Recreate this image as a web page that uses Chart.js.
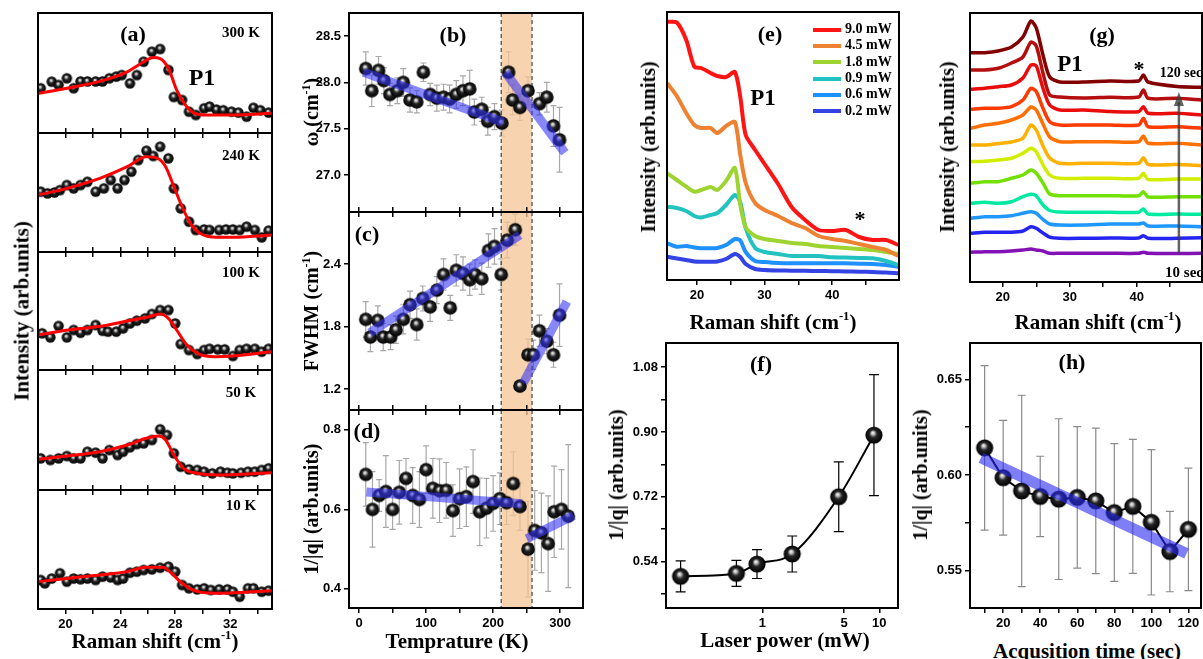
<!DOCTYPE html>
<html>
<head>
<meta charset="utf-8">
<script src="https://cdn.jsdelivr.net/npm/chart.js@4.4.0/dist/chart.umd.min.js"></script>
<style>
  body { margin: 0; width: 1203px; height: 659px; background: #fff; position: relative; overflow: hidden; }
  canvas { position: absolute; }
  .t { position: absolute; font-family: 'Liberation Serif', 'Times New Roman', serif; font-weight: bold; white-space: nowrap; color: #000; transform: translate(-50%, -50%); line-height: 1; }
  .t sup { font-size: 0.6em; vertical-align: 0.7em; line-height: 0; }
  .leg { position: absolute; font-family: 'Liberation Serif', serif; font-weight: bold; font-size: 14px; white-space: nowrap; }
  .leg span { display: inline-block; width: 28px; height: 4px; margin-right: 4px; vertical-align: middle; }
</style>
</head>
<body>
<script>
// ---------- data: (a) Raman spectra vs temperature ----------
const a300x = [18.2,19.0,19.5,20.1,20.6,21.1,21.6,22.2,22.7,23.2,23.7,24.1,24.7,25.2,25.7,26.3,26.9,27.5,27.9,28.5,29.0,29.5,30.1,30.5,31.0,31.5,32.1,32.6,33.2,33.7,34.2,34.8];
const a300y = [0.373,0.428,0.40,0.456,0.373,0.43,0.43,0.43,0.43,0.456,0.47,0.483,0.414,0.483,0.594,0.678,0.70,0.525,0.30,0.275,0.178,0.15,0.206,0.22,0.195,0.19,0.178,0.17,0.136,0.21,0.19,0.17];
const a300fx = [18.0,20.1,22.5,24.5,25.7,26.4,26.9,27.5,28.1,28.7,29.3,30.3,32.2,35.0];
const a300fy = [0.33,0.373,0.43,0.51,0.594,0.63,0.62,0.54,0.36,0.24,0.17,0.15,0.15,0.165];

const a240x = [18.2,18.7,19.2,19.6,20.1,20.6,21.1,21.6,22.2,22.8,23.3,23.8,24.3,24.8,25.3,25.9,26.4,26.9,27.5,27.9,28.4,29.0,29.5,30.1,30.5,31.2,31.7,32.2,32.7,33.2,33.8,34.3,34.8];
const a240y = [0.507,0.493,0.50,0.52,0.563,0.535,0.563,0.59,0.507,0.535,0.605,0.535,0.605,0.675,0.773,0.851,0.807,0.885,0.787,0.535,0.367,0.255,0.185,0.19,0.185,0.185,0.19,0.19,0.185,0.213,0.185,0.123,0.18];
const a240fx = [18.0,20.1,22.5,24.5,25.9,26.7,27.3,27.9,28.5,29.1,29.8,31.0,32.2,35.0];
const a240fy = [0.479,0.535,0.619,0.717,0.80,0.787,0.717,0.549,0.381,0.241,0.157,0.123,0.123,0.143];

const a100x = [18.3,18.9,19.5,20.1,20.6,21.1,21.6,22.2,22.7,23.1,23.7,24.2,24.7,25.2,25.8,26.3,26.9,27.5,28.0,28.4,29.0,29.6,30.1,30.5,31.1,31.6,32.2,32.7,33.2,33.8,34.3,34.8];
const a100y = [0.311,0.277,0.373,0.277,0.339,0.316,0.339,0.381,0.333,0.325,0.325,0.353,0.395,0.418,0.438,0.475,0.508,0.508,0.395,0.22,0.169,0.136,0.169,0.18,0.175,0.175,0.119,0.169,0.18,0.18,0.155,0.18];
const a100fx = [18.0,20.2,22.7,24.6,26.1,26.9,27.5,28.1,28.85,29.7,30.9,32.2,35.0];
const a100fy = [0.297,0.339,0.373,0.418,0.452,0.475,0.438,0.339,0.212,0.136,0.113,0.119,0.155];

const a50x = [18.2,18.9,19.5,20.1,20.6,21.1,21.6,22.2,22.7,23.2,23.8,24.2,24.7,25.2,25.7,26.3,26.9,27.4,27.9,28.4,29.0,29.6,30.1,30.7,31.3,31.8,32.2,32.8,33.3,33.8,34.3,34.8];
const a50y = [0.264,0.25,0.264,0.283,0.264,0.264,0.319,0.311,0.264,0.333,0.292,0.319,0.356,0.383,0.389,0.417,0.506,0.458,0.306,0.194,0.172,0.167,0.153,0.139,0.153,0.144,0.139,0.144,0.153,0.153,0.167,0.181];
const a50fx = [18.0,20.1,22.5,24.5,25.9,26.8,27.3,27.9,28.6,29.6,31.1,35.0];
const a50fy = [0.256,0.283,0.319,0.375,0.431,0.45,0.417,0.292,0.181,0.139,0.125,0.144];

const a10x = [18.2,18.5,19.0,19.6,20.1,20.6,21.1,21.6,22.2,22.7,23.3,23.8,24.2,24.7,25.2,25.7,26.3,26.9,27.5,28.0,28.5,29.0,29.6,30.1,30.6,31.2,31.8,32.2,32.7,33.3,33.7,34.3,34.8];
const a10y = [0.244,0.216,0.256,0.30,0.23,0.256,0.25,0.256,0.244,0.272,0.266,0.244,0.256,0.305,0.314,0.328,0.333,0.347,0.356,0.314,0.202,0.174,0.165,0.174,0.16,0.165,0.165,0.145,0.103,0.174,0.174,0.145,0.154];
const a10fx = [18.0,20.1,22.5,24.5,25.9,27.1,27.6,28.5,29.4,30.9,35.0];
const a10fy = [0.229,0.257,0.286,0.314,0.35,0.35,0.314,0.216,0.154,0.132,0.154];

const aTemps = ['300 K', '240 K', '100 K', '50 K', '10 K'];
const aTicks = [20,22,24,26,28,30,32,34];
const aTickLabels = [20,24,28,32];

// ---------- data: (b)(c)(d) fit parameters vs temperature ----------
const bTemp = [10,19,29,37,46,57,66,76,86,96,106,116,126,135,145,155,165,172,183,192,202,213,223,229,240,252,269,280,290,299];
const bOmega = [28.15,27.91,28.13,28.02,27.87,27.91,28.0,27.81,27.79,28.11,27.87,27.83,27.84,27.82,27.87,27.91,27.93,27.68,27.71,27.58,27.63,27.56,28.11,27.81,27.73,27.91,27.77,27.84,27.53,27.38];
const bErr = [0.18,0.17,0.15,0.14,0.12,0.14,0.15,0.13,0.12,0.1,0.12,0.14,0.14,0.15,0.15,0.16,0.2,0.14,0.13,0.15,0.14,0.14,0.22,0.16,0.14,0.15,0.12,0.16,0.22,0.35];
const bFit1T = [6.5, 215], bFit1Y = [28.11, 27.57];
const bFit2T = [218, 307], bFit2Y = [28.11, 27.24];

const cTemp = [10,17,28,36,47,55,66,76,86,95,106,116,126,136,145,155,165,173,183,193,202,212,221,233,240,252,260,269,280,290,299];
const cFwhm = [1.87,1.70,1.86,1.70,1.70,1.77,1.87,2.01,1.82,2.07,1.99,2.15,2.30,1.98,2.34,2.31,2.25,2.30,2.26,2.53,2.57,2.30,2.63,2.73,1.23,1.53,1.53,1.76,1.66,1.53,1.91];
const cErr = [0.17,0.14,0.14,0.13,0.12,0.13,0.14,0.13,0.15,0.12,0.14,0.13,0.15,0.12,0.15,0.16,0.15,0.14,0.15,0.16,0.17,0.15,0.17,0.15,0.06,0.15,0.14,0.15,0.12,0.12,0.3];
const cFit1T = [16, 240], cFit1Y = [1.74, 2.68];
const cFit2T = [245, 310], cFit2Y = [1.26, 2.04];

const dTemp = [10,20,30,40,50,60,70,80,90,100,110,120,130,140,150,160,170,180,190,200,210,220,230,240,252,262,272,282,291,302,312];
const dInvQ = [0.688,0.60,0.635,0.645,0.60,0.643,0.678,0.635,0.625,0.70,0.653,0.647,0.648,0.597,0.627,0.632,0.670,0.594,0.603,0.615,0.627,0.617,0.665,0.607,0.50,0.547,0.541,0.514,0.594,0.600,0.583];
const dErr = [0.08,0.095,0.04,0.09,0.05,0.08,0.05,0.07,0.07,0.06,0.075,0.08,0.07,0.065,0.075,0.075,0.08,0.085,0.075,0.07,0.065,0.055,0.08,0.06,0.12,0.1,0.1,0.12,0.115,0.1,0.18];
const dFit1T = [11, 243], dFit1Y = [0.644, 0.614];
const dFit2T = [250, 320], dFit2Y = [0.526, 0.585];

const transition = [212, 258];
const tTicks = [0,50,100,150,200,250,300];
const tTickLabels = [0,100,200,300];

// ---------- data: (e) spectra vs laser power ----------
const eShift = [15.6,17.0,18.4,19.6,20.6,22.0,23.0,24.3,25.6,26.4,27.2,28.6,30,32,34,36,38,40,42,44,46,48,49.8];
const e9_0 = [258.3,257.5,240,213.3,212,207,204,203,208,183,145,130,116,96,73,60,50,49,50,43,40,40,35];
const e4_5 = [196.7,184,167,155,152,152,147,154,158,125,97,77,70,64,57,52,44,41,39,36,33,30,24];
const e1_8 = [106.7,100,93.3,88.3,90,93,90,99,112,75,53,44,41,39,37,36,34,33,32,31,30,28,26];
const e0_9 = [73.3,72,69,64,62.5,65,67,75,85,78,52,32,28,26,24,24,24,22.7,22.5,22,21.7,19,15];
const e0_6 = [36.7,33.3,34,32.5,31.7,31.7,32,35,41,39.5,28,19,18,17,16.7,16.7,16.7,16.7,16.7,16.3,16,15,13.3];
const e0_2 = [23.3,21.5,20,18.5,18.3,18.3,18.5,21,26,23,16,11,10,9.5,9.3,9.2,9,8.8,8.5,8.3,8,7.5,6.7];
const ePowers = ['9.0 mW','4.5 mW','1.8 mW','0.9 mW','0.6 mW','0.2 mW'];
const eColors = ['#ff1414','#ee8233','#9ed432','#22c2c0','#1e90ff','#3444e4'];
const eTicks = [20,25,30,35,40,45];
const eTickLabels = [20,30,40];

// ---------- data: (f) 1/|q| vs laser power ----------
const fPower = [0.2,0.6,0.9,1.8,4.5,9.0];
const fInvQ = [0.499,0.507,0.533,0.561,0.72,0.891];
const fErr = [0.043,0.036,0.04,0.05,0.097,0.168];
const fXTicks = [1,5,10];
const fYTicks = [0.45,0.54,0.63,0.72,0.81,0.90,0.99,1.08];
const fYLabels = [0.54,0.72,0.90,1.08];

// ---------- data: (g) spectra vs acquisition time ----------
const gShift = [15.2,17.3,19.3,21.3,23.0,24.2,25.0,26.0,27.0,28.5,32,36,40.3,41.0,41.7,46,49.8];
const g10s  = [29.7,30.3,30.3,31,32,33,32,31,28.7,28.7,28.7,28.7,28.7,29.7,28.7,28.5,28.7];
const g20s  = [48.7,49.7,49.7,49.7,51,55.3,53.7,49,44.8,43.7,43.7,44,44,46.3,43.7,43.7,44.3];
const g30s  = [63.7,65.3,65.3,66.3,68.7,70.3,68.7,62.5,58,57,57,58,58,59,56,56,55.3];
const g40s  = [78.7,79.7,78.7,80.3,85.3,87.7,86,77,71.5,70,69.7,69.7,69.7,73,68,68,67.7];
const g50s  = [98.7,100.3,100.3,103.7,107,112,108.7,99,88,86.3,86.3,86.3,86.3,90.3,85,85.3,85.3];
const g60s  = [120.3,120.7,122,123.7,128.7,133.7,130.3,117,107,103.7,103.7,103.7,103.7,108.7,102.5,103,103];
const g70s  = [137,137,138.5,140,143.7,157,152,136,124,118.7,118.7,118.7,118.7,124.3,117.5,117.5,116.3];
const g80s  = [153.7,157,158.7,162,167,175,172,158,145,140.3,140.3,140.3,140.3,146,138.7,138.7,137];
const g90s  = [172.7,173.7,173.7,175.3,182,193.7,190.3,173.7,160.3,157,157,157,157,163.7,155.3,155.3,153.7];
const g100s = [192.7,193.7,195.3,197,204,217,216,193.7,177,172,172,170.5,170.3,175.3,168.7,168.7,167];
const g110s = [212,212,213.7,219,225,240,236,209,187,185,184,184.7,185,192,183.7,183.7,182];
const g120s = [229.3,229.3,231,235,245,261,254,227,205,200,200,201,201,207,200,195.5,194.7];
const gCurves = [g10s,g20s,g30s,g40s,g50s,g60s,g70s,g80s,g90s,g100s,g110s,g120s];
const gColors = ['#8312b4','#2424f0','#1e98ff','#00eaa0','#72e000','#d2ee00','#ffb000','#ff7000','#ff3a00','#e80c0c','#b40e0e','#820000'];
const gArrow = { x: 46.3, from: 29, to: 190 };

// ---------- data: (h) 1/|q| vs acquisition time ----------
const hTime = [10,20,30,40,50,60,70,80,90,100,110,120];
const hInvQ = [0.6142,0.5986,0.5917,0.5888,0.5874,0.5883,0.5865,0.5804,0.5836,0.5753,0.560,0.5716];
const hErr = [0.043,0.030,0.050,0.021,0.042,0.037,0.038,0.036,0.035,0.038,0.021,0.032];
const hFitX = [8, 119], hFitY = [0.609, 0.559];
const hXTicks = [10,20,30,40,50,60,70,80,90,100,110,120];
const hXLabels = [20,40,60,80,100,120];
const hYTicks = [0.55,0.575,0.60,0.625,0.65];
const hYLabels = [0.55,0.60,0.65];

// ---------- helpers ----------
const PL = 50, PR = 10, PT = 10, PB = 24;
const TICK_FONT = { family: "'Liberation Sans', Arial, sans-serif", size: 13, weight: 'bold' };

function zip(xs, ys) { return xs.map((x, i) => ({ x: x, y: ys[i] })); }

// shaded black sphere used as point marker
function ball(r) {
  const c = document.createElement('canvas');
  const s = Math.ceil(2 * r + 2);
  c.width = c.height = s;
  const g = c.getContext('2d'), m = s / 2;
  const grad = g.createRadialGradient(m - r * 0.15, m - r * 0.3, 0, m, m, r);
  grad.addColorStop(0, '#ffffff');
  grad.addColorStop(0.18, '#c4c4c4');
  grad.addColorStop(0.45, '#262626');
  grad.addColorStop(1, '#000000');
  g.fillStyle = grad;
  g.beginPath(); g.arc(m, m, r, 0, Math.PI * 2); g.fill();
  return c;
}

function axis(pos, min, max, ticks, labels, dec, size, type) {
  return {
    type: type || 'linear', position: pos, min: min, max: max, display: true,
    afterBuildTicks: s => { s.ticks = ticks.map(v => ({ value: v })); },
    ticks: {
      display: labels.length > 0, autoSkip: false, maxRotation: 0, minRotation: 0,
      padding: 3, color: '#000', font: TICK_FONT,
      callback: v => labels.some(l => Math.abs(l - v) < 1e-6) ? Number(v).toFixed(dec) : ''
    },
    grid: { display: ticks.length > 0, drawOnChartArea: false, drawTicks: true, tickLength: 5, color: '#000', lineWidth: 1.5 },
    border: { display: false },
    afterFit: s => {
      if (pos === 'left' || pos === 'right') s.width = size; else s.height = size;
      s.paddingLeft = s.paddingRight = s.paddingTop = s.paddingBottom = 0;
    }
  };
}

const framePlugin = {
  id: 'frame',
  afterDatasetsDraw(chart) {
    const a = chart.chartArea, ctx = chart.ctx;
    ctx.save();
    ctx.strokeStyle = '#000'; ctx.lineWidth = 2;
    ctx.strokeRect(a.left, a.top, a.right - a.left, a.bottom - a.top);
    ctx.restore();
  }
};

const errorBarPlugin = {
  id: 'errorBars',
  beforeDatasetsDraw(chart) {
    const ctx = chart.ctx, a = chart.chartArea;
    chart.data.datasets.forEach((ds, i) => {
      if (!ds.errors) return;
      const meta = chart.getDatasetMeta(i);
      const ys = chart.scales[meta.yAxisID];
      const cap = ds.errorCap || 3;
      ctx.save();
      ctx.beginPath(); ctx.rect(a.left, a.top, a.right - a.left, a.bottom - a.top); ctx.clip();
      ctx.strokeStyle = ds.errorColor || '#999';
      ctx.lineWidth = ds.errorWidth || 1;
      meta.data.forEach((pt, j) => {
        const v = ds.data[j].y, e = ds.errors[j];
        const y1 = ys.getPixelForValue(v + e), y2 = ys.getPixelForValue(v - e);
        ctx.beginPath();
        ctx.moveTo(pt.x, y1); ctx.lineTo(pt.x, y2);
        ctx.moveTo(pt.x - cap, y1); ctx.lineTo(pt.x + cap, y1);
        ctx.moveTo(pt.x - cap, y2); ctx.lineTo(pt.x + cap, y2);
        ctx.stroke();
      });
      ctx.restore();
    });
  }
};

const shadePlugin = {
  id: 'shade',
  beforeDatasetsDraw(chart, args, o) {
    if (!o || o.from == null) return;
    const a = chart.chartArea, xs = chart.scales.x, ctx = chart.ctx;
    const x1 = xs.getPixelForValue(o.from), x2 = xs.getPixelForValue(o.to);
    ctx.save();
    ctx.fillStyle = o.color;
    ctx.fillRect(x1, a.top, x2 - x1, a.bottom - a.top);
    ctx.setLineDash([4, 3]); ctx.strokeStyle = '#444'; ctx.lineWidth = 1.2;
    ctx.beginPath();
    ctx.moveTo(x1, a.top); ctx.lineTo(x1, a.bottom);
    ctx.moveTo(x2, a.top); ctx.lineTo(x2, a.bottom);
    ctx.stroke();
    ctx.restore();
  }
};

const arrowPlugin = {
  id: 'arrow',
  afterDatasetsDraw(chart, args, o) {
    if (!o || o.x == null) return;
    const xs = chart.scales.x, ys = chart.scales.y, ctx = chart.ctx;
    const x = xs.getPixelForValue(o.x), y1 = ys.getPixelForValue(o.from), y2 = ys.getPixelForValue(o.to);
    ctx.save();
    ctx.strokeStyle = ctx.fillStyle = 'rgba(60,60,60,0.8)';
    ctx.lineWidth = 2.5;
    ctx.beginPath(); ctx.moveTo(x, y1); ctx.lineTo(x, y2 + 10); ctx.stroke();
    ctx.beginPath(); ctx.moveTo(x, y2); ctx.lineTo(x - 5, y2 + 14); ctx.lineTo(x + 5, y2 + 14); ctx.closePath(); ctx.fill();
    ctx.restore();
  }
};

Chart.register(framePlugin, errorBarPlugin, shadePlugin, arrowPlugin);

function mk(box, scales, datasets, plugins) {
  const c = document.createElement('canvas');
  const W = box.w + PL + PR, H = box.h + PT + PB;
  c.width = W; c.height = H;
  c.style.left = (box.l - PL) + 'px'; c.style.top = (box.t - PT) + 'px';
  c.style.width = W + 'px'; c.style.height = H + 'px';
  document.body.appendChild(c);
  return new Chart(c, {
    type: 'scatter',
    data: { datasets: datasets },
    options: {
      responsive: false, animation: false, devicePixelRatio: 1,
      layout: { padding: { left: 0, top: PT, right: PR, bottom: 0 } },
      scales: scales,
      plugins: Object.assign({ legend: { display: false }, tooltip: { enabled: false } }, plugins || {})
    }
  });
}

function fitLine(xs, ys, color, width) {
  return { data: zip(xs, ys), showLine: true, pointRadius: 0, borderColor: color, borderWidth: width, tension: 0 };
}

// ---------- (a) ----------
const aBall = ball(5.2);
const aTops = [13, 133, 252, 370, 490, 609];
const aPts = [[a300x, a300y], [a240x, a240y], [a100x, a100y], [a50x, a50y], [a10x, a10y]];
const aFits = [[a300fx, a300fy], [a240fx, a240fy], [a100fx, a100fy], [a50fx, a50fy], [a10fx, a10fy]];
aPts.forEach((p, i) => {
  const last = i === aPts.length - 1;
  const scales = {
    x: axis('bottom', 18, 35.05, aTicks, last ? aTickLabels : [], 0, PB),
    y: axis('left', 0, 1, [], [], 0, PL)
  };
  if (i > 0) scales.x2 = axis('top', 18, 35.05, aTicks, [], 0, 0);
  mk({ l: 38, t: aTops[i], w: 234, h: aTops[i + 1] - aTops[i] }, scales, [
    { data: zip(aFits[i][0], aFits[i][1]), showLine: true, pointRadius: 0, borderColor: '#ff0000', borderWidth: 3, cubicInterpolationMode: 'monotone' },
    { data: zip(p[0], p[1]), pointStyle: aBall, pointRadius: 5 }
  ]);
});

// ---------- (b)(c)(d) ----------
const bBall = ball(6.8);
const fitBlue = 'rgba(50,50,245,0.58)';
const bcd = [
  { t: 13, h: 199, x: bTemp, y: bOmega, e: bErr, f: [[bFit1T, bFit1Y], [bFit2T, bFit2Y]], yr: [26.6, 28.75], yt: [27.0, 27.5, 28.0, 28.5] },
  { t: 212, h: 198, x: cTemp, y: cFwhm, e: cErr, f: [[cFit1T, cFit1Y], [cFit2T, cFit2Y]], yr: [1.0, 2.9], yt: [1.2, 1.8, 2.4] },
  { t: 410, h: 198, x: dTemp, y: dInvQ, e: dErr, f: [[dFit1T, dFit1Y], [dFit2T, dFit2Y]], yr: [0.352, 0.85], yt: [0.4, 0.6, 0.8] }
];
bcd.forEach((p, i) => {
  const last = i === bcd.length - 1;
  const scales = {
    x: axis('bottom', -15, 334, tTicks, last ? tTickLabels : [], 0, PB),
    y: axis('left', p.yr[0], p.yr[1], p.yt, p.yt, 1, PL)
  };
  if (i > 0) scales.x2 = axis('top', -15, 334, tTicks, [], 0, 0);
  mk({ l: 349, t: p.t, w: 234, h: p.h }, scales, [
    fitLine(p.f[0][0], p.f[0][1], fitBlue, 9),
    fitLine(p.f[1][0], p.f[1][1], fitBlue, 9),
    { data: zip(p.x, p.y), pointStyle: bBall, pointRadius: 7, errors: p.e, errorColor: '#a8a8a8', errorWidth: 1.2, errorCap: 3 }
  ], { shade: { from: transition[0], to: transition[1], color: 'rgba(246,196,150,0.75)' } });
});

// ---------- (e) ----------
const eSeries = [e9_0, e4_5, e1_8, e0_9, e0_6, e0_2];
mk({ l: 667, t: 12, w: 232, h: 268 }, {
  x: axis('bottom', 15.55, 49.9, eTicks, eTickLabels, 0, PB),
  y: axis('left', 0, 268, [], [], 0, PL)
}, eSeries.map((s, i) => ({
  data: zip(eShift, s), showLine: true, pointRadius: 0, borderColor: eColors[i], borderWidth: 4, tension: 0.25
})));

// ---------- (f) ----------
const fBall = ball(8.6);
mk({ l: 666, t: 342, w: 233, h: 266 }, {
  x: axis('bottom', 0.15, 14.45, fXTicks, fXTicks, 0, PB, 'logarithmic'),
  y: axis('left', 0.411, 1.147, fYTicks, fYLabels, 2, PL)
}, [
  { data: zip(fPower, fInvQ), showLine: true, borderColor: '#000', borderWidth: 2, cubicInterpolationMode: 'monotone',
    pointStyle: fBall, pointRadius: 9, errors: fErr, errorColor: '#000', errorWidth: 1.2, errorCap: 5 }
]);

// ---------- (g) ----------
mk({ l: 970, t: 13, w: 232, h: 269 }, {
  x: axis('bottom', 15.1, 49.75, eTicks, eTickLabels, 0, PB),
  y: axis('left', 0, 269, [], [], 0, PL)
}, gCurves.map((s, i) => ({
  data: zip(gShift, s), showLine: true, pointRadius: 0, borderColor: gColors[i], borderWidth: 3.5, tension: 0.25
})).reverse(), { arrow: gArrow });

// ---------- (h) ----------
const hBall = ball(8.6);
mk({ l: 970, t: 342, w: 232, h: 266 }, {
  x: axis('bottom', 2.1, 126.8, hXTicks, hXLabels, 0, PB),
  y: axis('left', 0.5305, 0.669, hYTicks, hYLabels, 2, PL)
}, [
  fitLine(hFitX, hFitY, 'rgba(40,40,240,0.6)', 11),
  { data: zip(hTime, hInvQ), showLine: true, borderColor: '#000', borderWidth: 2, tension: 0,
    pointStyle: hBall, pointRadius: 9, errors: hErr, errorColor: '#8a8a8a', errorWidth: 1.2, errorCap: 4 }
]);

// ---------- texts ----------
function put(html, x, y, size, rot) {
  const d = document.createElement('div');
  d.className = 't';
  d.innerHTML = html;
  d.style.left = x + 'px'; d.style.top = y + 'px'; d.style.fontSize = size + 'px';
  if (rot) d.style.transform = 'translate(-50%,-50%) rotate(-90deg)';
  document.body.appendChild(d);
}
const cm = 'Raman shift (cm<sup>-1</sup>)';
put('(a)', 133, 34, 22);
put('P1', 202, 77, 24);
const aLabelY = [32, 155, 272, 392, 505];
aTemps.forEach((s, i) => put(s, 241, aLabelY[i], 15));
put('Intensity (arb.units)', 22, 311, 21, true);
put(cm, 155, 641, 21);

put('(b)', 453, 35, 22);
put('(c)', 367, 234, 22);
put('(d)', 367, 431, 22);
put('ω (cm<sup>-1</sup>)', 311, 112, 20, true);
put('FWHM (cm<sup>-1</sup>)', 311, 311, 20, true);
put('1/|q| (arb.units)', 311, 509, 20, true);
put('Temprature (K)', 457, 641, 21);

put('(e)', 770, 34, 22);
put('P1', 763, 97, 23);
put('*', 860, 219, 22);
put('Intensity (arb.units)', 648, 147, 20, true);
put(cm, 773, 322, 21);

put('(f)', 761, 364, 22);
put('1/|q| (arb.units)', 616, 475, 20, true);
put('Laser power (mW)', 785, 640, 21);

put('(g)', 1102, 35, 22);
put('P1', 1070, 63, 23);
put('*', 1139, 69, 22);
put('120 sec', 1181, 73, 14);
put('10 sec', 1184, 272, 15);
put('Intensity (arb.units)', 947, 147, 20, true);
put(cm, 1098, 322, 21);

put('(h)', 1072, 362, 22);
put('1/|q| (arb.units)', 920, 475, 20, true);
put('Acqusition time (sec)', 1087, 651, 21);

// legend of (e)
ePowers.forEach((s, i) => {
  const d = document.createElement('div');
  d.className = 'leg';
  d.style.left = '813px';
  d.style.top = (21 + i * 16.3) + 'px';
  d.innerHTML = '<span style="background:' + eColors[i] + '"></span>' + s;
  document.body.appendChild(d);
});
</script>
</body>
</html>
